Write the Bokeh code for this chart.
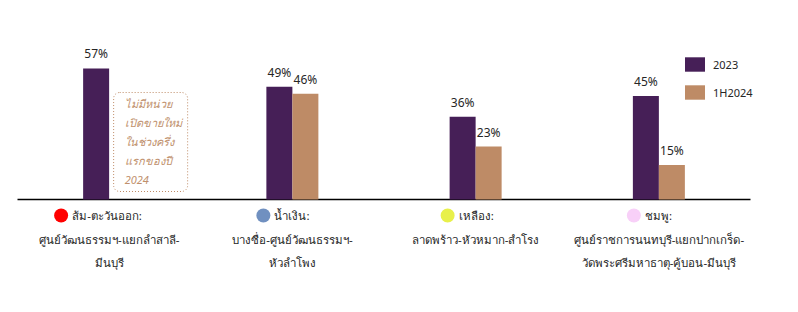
from bokeh.plotting import figure
from bokeh.models import Range1d, Legend, LegendItem
from bokeh.core.properties import value
from bokeh.embed import file_html
from bokeh.resources import INLINE

# ---- data ----
line_names = ["ส้ม-ตะวันออก:", "น้ำเงิน:", "เหลือง:", "ชมพู:"]
line_routes = [
    ["ศูนย์วัฒนธรรมฯ-แยกลำสาลี-", "มีนบุรี"],
    ["บางซื่อ-ศูนย์วัฒนธรรมฯ-", "หัวลำโพง"],
    ["ลาดพร้าว-หัวหมาก-สำโรง"],
    ["ศูนย์ราชการนนทบุรี-แยกปากเกร็ด-", "วัดพระศรีมหาธาตุ-คู้บอน-มีนบุรี"],
]
line_colors = ["#FF0000", "#7090C0", "#E8F04A", "#F8D0F8"]
series_names = ["2023", "1H2024"]
vals_2023 = [57, 49, 36, 45]
vals_1h2024 = [None, 46, 23, 15]
note_lines = ["ไม่มีหน่วย", "เปิดขายใหม่", "ในช่วงครึ่ง", "แรกของปี", "2024"]

# ---- style ----
PURPLE = "#461F57"
TAN = "#BE8B66"
TXT = "#262626"
FONT = "Noto Sans"
THAI_SIZE = "11.5px"

W, H = 798, 312
PX_X = 183.25   # pixels per category
PX_Y = 2.3      # pixels per percent
LEFT, BASE = 17, 199
xmin = -LEFT / PX_X
xmax = xmin + W / PX_X
ymax = BASE / PX_Y
ymin = ymax - H / PX_Y

def dx(px):
    return px / PX_X

def dy(px):
    return px / PX_Y

p = figure(width=W, height=H, output_backend="svg", toolbar_location=None,
           x_range=Range1d(xmin, xmax), y_range=Range1d(ymin, ymax),
           min_border=0, outline_line_color=None)
p.axis.visible = False
p.grid.visible = False
p.background_fill_color = "white"
p.border_fill_color = "white"

n = len(line_names)
centers = [i + 0.5 for i in range(n)]
bw = dx(26)

# baseline
p.segment(x0=[0], y0=[0], x1=[n], y1=[0], line_color="#000000", line_width=1.3)

# bars
x23 = [c - bw / 2 for c in centers]
r1 = p.vbar(x=x23, top=vals_2023, width=bw, bottom=0, fill_color=PURPLE, line_color=None)
idx24 = [i for i, v in enumerate(vals_1h2024) if v is not None]
x24 = [centers[i] + bw / 2 for i in idx24]
t24 = [vals_1h2024[i] for i in idx24]
r2 = p.vbar(x=x24, top=t24, width=bw, bottom=0, fill_color=TAN, line_color=None)

# value labels
p.text(x=x23, y=vals_2023, text=[f"{v}%" for v in vals_2023], text_align="center",
       text_baseline="bottom", y_offset=-6, text_font_size="12px", text_color=TXT,
       text_font=value(FONT))
p.text(x=x24, y=t24, text=[f"{v}%" for v in t24], text_align="center",
       text_baseline="bottom", y_offset=-6, text_font_size="12px", text_color=TXT,
       text_font=value(FONT))

# note box (first group has no 1H2024 value)
missing = [i for i, v in enumerate(vals_1h2024) if v is None]
for i in missing:
    c = centers[i]
    p.quad(left=[c + dx(4.5)], right=[c + dx(78.5)], top=[dy(BASE - 92)], bottom=[dy(BASE - 191)],
           fill_color=None, line_color=TAN, line_dash="1 2", line_width=1, border_radius=6)
    for k, t in enumerate(note_lines):
        p.text(x=[c + dx(15.5)], y=[dy(BASE - 103 - 19 * k)], text=[t], text_align="left",
               text_baseline="middle", text_font_size="11px", text_color="#C0906C",
               text_font_style="italic", text_font=value(FONT))

# category labels below axis
marker_off = [-48, -29, -28, -25]
for i in range(n):
    c = centers[i]
    mx = c + dx(marker_off[i])
    p.scatter(x=[mx], y=[dy(-16)], size=14, marker="circle", fill_color=line_colors[i],
              line_color=None)
    p.text(x=[mx + dx(11)], y=[0], text=[line_names[i]], text_align="left",
           text_baseline="middle", y_offset=16, text_font_size=THAI_SIZE, text_color=TXT,
           text_font=value(FONT))
    for k, t in enumerate(line_routes[i]):
        p.text(x=[c], y=[0], text=[t], text_align="center", text_baseline="middle",
               y_offset=40 + 23 * k, text_font_size=THAI_SIZE, text_color=TXT,
               text_font=value(FONT))

legend = Legend(items=[LegendItem(label=series_names[0], renderers=[r1]),
                       LegendItem(label=series_names[1], renderers=[r2])],
                location=(682, H - 101), orientation="vertical",
                glyph_width=25, glyph_height=18, label_height=18, spacing=10,
                padding=0, margin=0, border_line_color=None, background_fill_alpha=0,
                label_text_font_size="11px", label_text_color=TXT,
                label_text_font=FONT, label_standoff=6)
p.add_layout(legend, "center")

open("out.html", "w").write(file_html(p, INLINE))
